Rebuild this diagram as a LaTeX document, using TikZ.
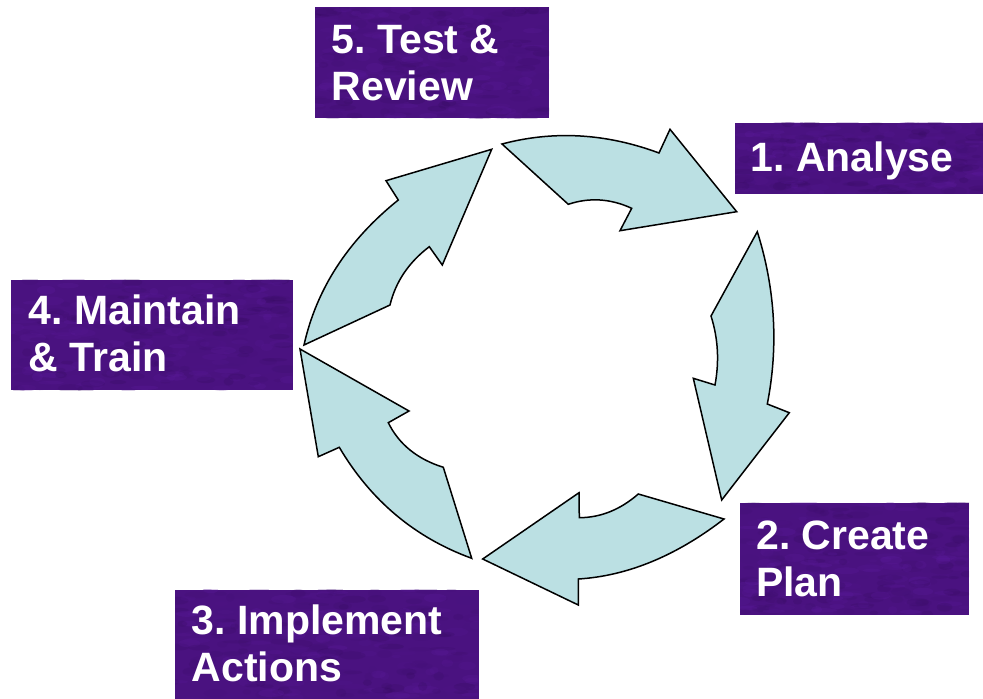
\documentclass[tikz,border=0pt]{standalone}
\usepackage{fontspec}
\setmainfont{Liberation Sans}
\usetikzlibrary{calc}
\frenchspacing

\definecolor{cycleFill}{RGB}{187,224,227}
\definecolor{stagePurple}{RGB}{74,18,128}
\definecolor{mottleDark}{RGB}{46,8,84}
\definecolor{mottleLight}{RGB}{100,30,170}

\tikzset{
  cyclearrow/.style={fill=cycleFill, draw=black, line width=1.5pt, line join=miter},
  stagebox/.style={rectangle, fill=stagePurple, draw=none, inner sep=0pt, anchor=north west},
  stagetext/.style={text=white, font=\fontsize{41}{47}\selectfont\bfseries,
    align=left, anchor=base west, inner sep=0pt},
}

% mottled texture laid over a box: corners (x0,y0) and (x1,y1)
\newcommand\stagemottle[4]{%
  \begin{scope}
    \clip (#1,#2) rectangle (#3,#4);
    \foreach \k in {1,...,300}{
      \pgfmathsetmacro\mx{#1+rnd*(#3-#1)}
      \pgfmathsetmacro\my{#2+rnd*(#4-#2)}
      \pgfmathsetmacro\mrx{4+10*rnd}
      \pgfmathsetmacro\mry{1.5+3*rnd}
      \pgfmathtruncatemacro\mmix{100*rnd}
      \fill[mottleDark!\mmix!mottleLight, opacity=0.2]
        (\mx,\my) ellipse [x radius=\mrx pt, y radius=\mry pt];
    }
  \end{scope}}

\begin{document}
\begin{tikzpicture}[x=1pt,y=-1pt]
\pgfmathsetseed{4217}
\useasboundingbox (0,0) rectangle (983,699);

% ---- the five curved arrows of the cycle ----
% 5 -> 1
\draw[cyclearrow] (502,144) .. controls (553.7,130.3) and (606,133.3) .. (659,153)
  -- (670,129.3) -- (736.7,211.7) -- (620,230.7) -- (631.7,208.3)
  .. controls (610.6,198.6) and (589.4,197.2) .. (568.3,204.3) -- cycle;
% 1 -> 2
\draw[cyclearrow] (757.3,231.7) .. controls (775.3,288.9) and (778.6,346.4) .. (767.3,404)
  -- (789.3,412.7) -- (721.7,500) -- (693.3,378.3) -- (715,385)
  .. controls (719.4,361.3) and (718.1,338.3) .. (711,316) -- cycle;
% 2 -> 3
\draw[cyclearrow] (724,519) .. controls (676.2,555.9) and (627.6,575.9) .. (578.3,579)
  -- (578.3,605) -- (482.7,559) -- (579,492.7) -- (579.3,517.7)
  .. controls (600.6,517.6) and (620.2,509.7) .. (638.3,494) -- cycle;
% 3 -> 4
\draw[cyclearrow] (471.7,558.3) .. controls (414.9,537.6) and (370.8,500.6) .. (339.3,447.3)
  -- (318.3,456.7) -- (300,349) -- (409,411) -- (388.3,422.7)
  .. controls (398.9,444.2) and (417.2,459.1) .. (443.3,467.3) -- cycle;
% 4 -> 5
\draw[cyclearrow] (304,345) .. controls (316.6,288.7) and (348,240.3) .. (398.3,200)
  -- (386,180.7) -- (491.7,149.3) -- (442.3,265) -- (429.3,246.7)
  .. controls (408.7,262.3) and (395.6,281.8) .. (390,305) -- cycle;

% ---- stage boxes (text anchored on the baseline of its last line) ----
\node[stagebox, minimum width=248pt, minimum height=70.6pt] (analyse) at (735,122.7) {};
\stagemottle{735}{122.7}{983}{193.3}
\node[stagetext] (analyseText) at (750.5,171.7) {1. Analyse};

\node[stagebox, minimum width=229pt, minimum height=112pt] (plan) at (740,502.3) {};
\stagemottle{740}{502.3}{969}{614.3}
\node[stagetext] (planText) at (756,596.7) {2. Create\\Plan};

\node[stagebox, minimum width=303.3pt, minimum height=109.7pt] (implement) at (175,589.3) {};
\stagemottle{175}{589.3}{478.3}{699}
\node[stagetext] (implementText) at (191.5,681.7) {3. Implement\\Actions};

\node[stagebox, minimum width=281.7pt, minimum height=110.7pt] (maintain) at (11,279.3) {};
\stagemottle{11}{279.3}{292.7}{390}
\node[stagetext] (maintainText) at (28.5,371.7) {4. Maintain\\\& Train};

\node[stagebox, minimum width=234pt, minimum height=111pt] (review) at (315,7) {};
\stagemottle{315}{7}{549}{118}
\node[stagetext] (reviewText) at (331.5,100) {5. Test \&\\Review};
\end{tikzpicture}
\end{document}
